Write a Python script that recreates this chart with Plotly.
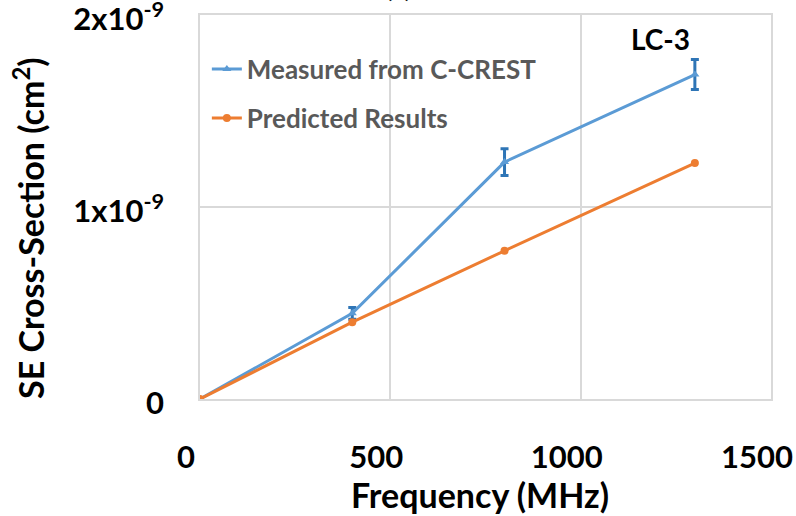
import plotly.graph_objects as go

# ---- data ----
freq_measured = [0, 400, 800, 1300]
xs_measured = [0, 0.446e-9, 1.234e-9, 1.69e-9]
err_measured = [0, 0.03e-9, 0.07e-9, 0.078e-9]

freq_pred = [0, 400, 800, 1300]
xs_pred = [0, 0.40e-9, 0.772e-9, 1.229e-9]

x_ticks = [0, 500, 1000, 1500]
y_ticks = [0, 1e-9, 2e-9]
y_ticktext = ["0", "1x10<sup>-9</sup>", "2x10<sup>-9</sup>"]

BLUE = "#5b9bd5"
BLUE_DARK = "#2e75b6"
ORANGE = "#ed7d31"
GRID = "#d9d9d9"
FONT = "Lato"

fig = go.Figure()
fig.add_trace(go.Scatter(
    x=freq_measured, y=xs_measured, mode="lines+markers",
    name="Measured from C-CREST", legendgroup="a",
    line=dict(color=BLUE, width=3),
    marker=dict(symbol="triangle-up", size=8, color=BLUE),
    error_y=dict(type="data", array=err_measured, visible=True,
                 color=BLUE_DARK, thickness=3, width=4),
))
fig.add_trace(go.Scatter(
    x=freq_pred, y=xs_pred, mode="lines+markers",
    name="Predicted Results", legendgroup="b",
    line=dict(color=ORANGE, width=3),
    marker=dict(symbol="circle", size=8, color=ORANGE),
))

fig.update_layout(
    width=796, height=516,
    margin=dict(l=200, r=25, t=15, b=117, autoexpand=False),
    paper_bgcolor="white", plot_bgcolor="white",
    font=dict(family=FONT, color="black"),
    showlegend=True,
    legend=dict(
        x=0.012, y=0.92, xanchor="left", yanchor="top",
        font=dict(family=FONT, size=26, color="#595959", weight="bold"),
        bgcolor="rgba(0,0,0,0)", tracegroupgap=12, traceorder="grouped",
        itemwidth=30,
    ),
    xaxis=dict(
        range=[0, 1500], tickvals=x_ticks, automargin=False,
        showgrid=True, gridcolor=GRID, gridwidth=1.5,
        showline=True, linecolor=GRID, linewidth=1.5, mirror=True,
        zeroline=False, ticks="",
        tickfont=dict(family=FONT, size=31, color="black", weight="bold"),
        ticklabelstandoff=30, ticklabelshift=-14, ticklabeloverflow="allow",
    ),
    yaxis=dict(
        range=[0, 2e-9], tickvals=y_ticks, ticktext=y_ticktext, automargin=False,
        showgrid=True, gridcolor=GRID, gridwidth=1.5,
        showline=True, linecolor=GRID, linewidth=1.5, mirror=True,
        zeroline=False, ticks="",
        tickfont=dict(family=FONT, size=31, color="black", weight="bold"),
        ticklabelstandoff=28, ticklabelshift=4, ticklabeloverflow="allow",
    ),
    annotations=[
        dict(text="Frequency (MHz)", xref="paper", yref="paper",
             x=(480 - 200) / 571, y=-(494 - 399) / 384,
             xanchor="center", yanchor="middle", showarrow=False,
             font=dict(family=FONT, size=34, color="black", weight="bold")),
        dict(text="SE Cross-Section (cm<sup>2</sup>)", xref="paper", yref="paper",
             x=-(200 - 29) / 571, y=(399 - 228) / 384, textangle=-90,
             xanchor="center", yanchor="middle", showarrow=False,
             font=dict(family=FONT, size=34, color="black", weight="bold")),
        dict(text="LC-3", xref="paper", yref="paper",
             x=(660 - 200) / 571, y=(399 - 39) / 384,
             xanchor="center", yanchor="middle", showarrow=False,
             font=dict(family=FONT, size=28, color="black", weight="bold")),
        dict(text="(c)", xref="paper", yref="paper",
             x=(398 - 200) / 571, y=1 + (15 - 5) / 384,
             xanchor="center", yanchor="bottom", showarrow=False,
             font=dict(family=FONT, size=28, color="black")),
    ],
)

fig.write_html("out.html", config={"displayModeBar": False},
               post_script="document.body.style.margin='0px';")
